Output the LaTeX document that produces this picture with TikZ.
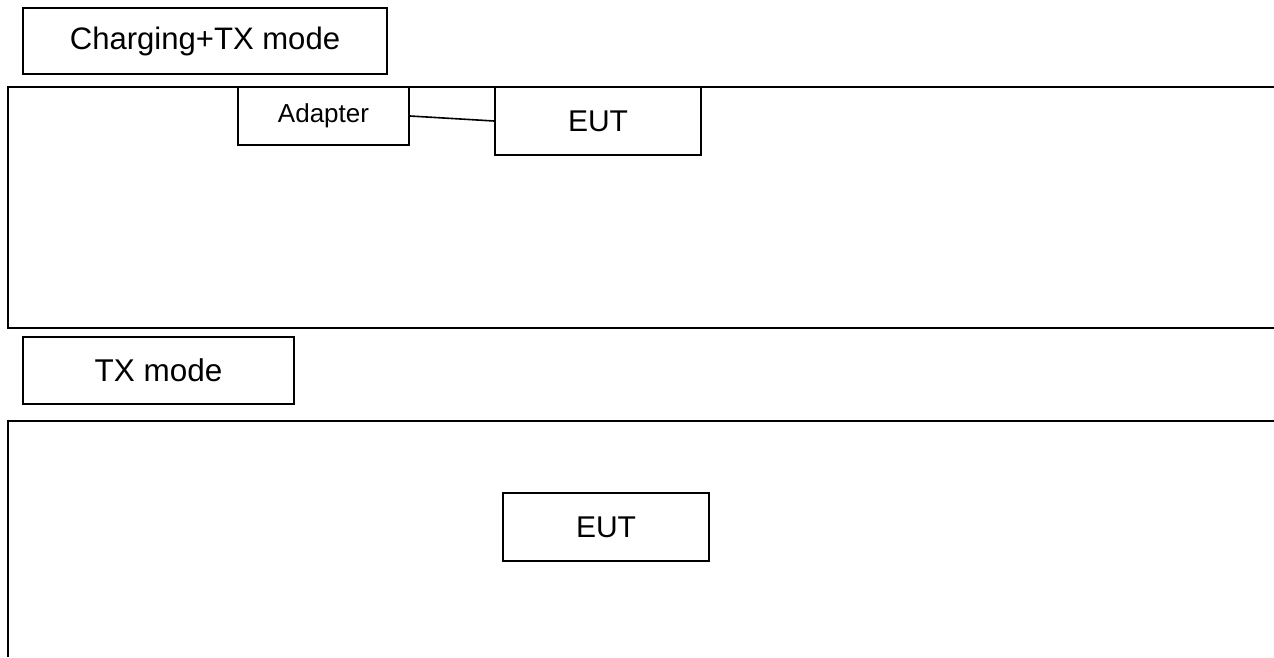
\documentclass[tikz,border=0pt]{standalone}
\usepackage{fontspec}
\setmainfont{Liberation Sans}
\begin{document}
\begin{tikzpicture}[x=0.75pt,y=-0.75pt,
  box/.style={draw=black,line width=1.4pt,fill=white,inner sep=0pt,rectangle},
  frame/.style={draw=black,line width=1.5pt},
  wire/.style={draw=black,line width=1.2pt}]
\useasboundingbox (0,0) rectangle (1274,657);
% frames
\coordinate (f1a) at (1274,87);
\coordinate (f1b) at (8,87);
\coordinate (f1c) at (8,328);
\coordinate (f1d) at (1274,328);
\draw[frame] (f1a) -- (f1b) -- (f1c) -- (f1d);
\coordinate (f2a) at (1274,421);
\coordinate (f2b) at (8,421);
\coordinate (f2c) at (8,657);
\draw[frame] (f2a) -- (f2b) -- (f2c);
% boxes
\node[box,minimum width=273pt,minimum height=49.5pt,font=\fontsize{23.3pt}{28pt}\selectfont] (chg) at (205,41) {Charging+TX mode};
\node[box,minimum width=128.25pt,minimum height=43.5pt,font=\fontsize{19.5pt}{24pt}\selectfont] (adapter) at (323.5,116) {Adapter};
\node[box,minimum width=154.5pt,minimum height=51pt,font=\fontsize{22.5pt}{27pt}\selectfont] (eut1) at (598,121) {EUT};
\node[box,minimum width=203.25pt,minimum height=50.25pt,font=\fontsize{23.6pt}{28pt}\selectfont] (tx) at (158.5,370.5) {TX mode};
\node[box,minimum width=154.5pt,minimum height=51pt,font=\fontsize{22.5pt}{27pt}\selectfont] (eut2) at (606,527) {EUT};
\draw[wire] (adapter.east) -- (eut1.west);
\end{tikzpicture}
\end{document}
